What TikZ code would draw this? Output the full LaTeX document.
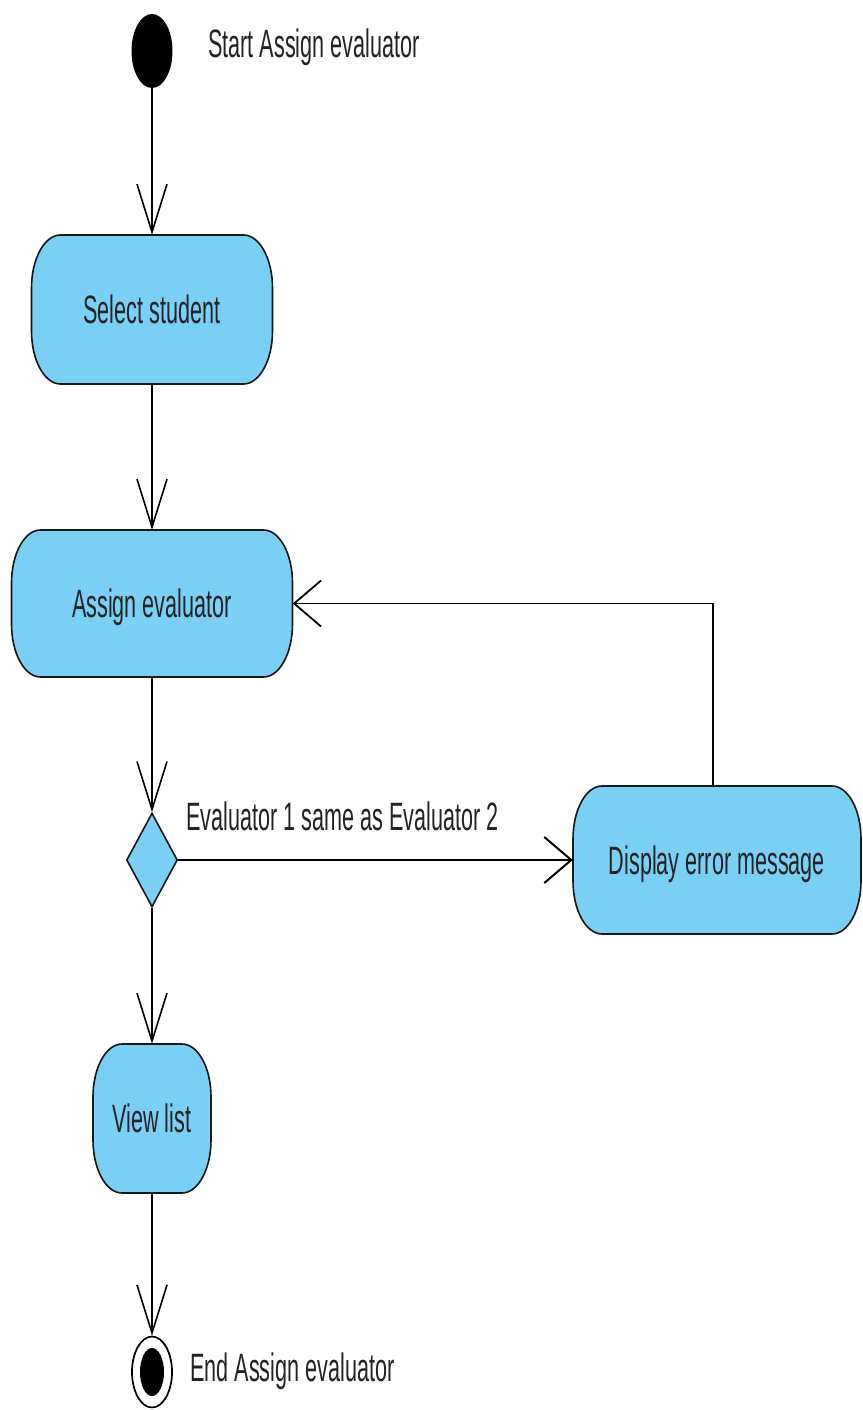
\documentclass[tikz,border=0pt]{standalone}
\usepackage{fontspec}
\setmainfont{Liberation Sans}
\usetikzlibrary{arrows.meta,shapes.geometric}

\definecolor{actblue}{RGB}{122,207,245}
\definecolor{inkline}{RGB}{22,22,22}
\definecolor{labelink}{RGB}{35,35,35}

% tall, condensed lettering used for every caption
\newcommand\narrowtext[1]{\scalebox{0.9}[1.65]{\raisebox{0pt}[\height][0pt]{#1}}}
\newcommand\cornerrx{29}
\newcommand\cornerry{53}
% action state with elliptic corners: name, centre x, centre y, width, height, text
\newcommand\actionnode[6]{%
  \path[actionshape] ({#2-#4/2+\cornerrx},{#3+#5/2}) -- ({#2+#4/2-\cornerrx},{#3+#5/2})
    arc[start angle=90,end angle=0,x radius=\cornerrx,y radius=\cornerry]
    -- ({#2+#4/2},{#3-#5/2+\cornerry})
    arc[start angle=0,end angle=-90,x radius=\cornerrx,y radius=\cornerry]
    -- ({#2-#4/2+\cornerrx},{#3-#5/2})
    arc[start angle=-90,end angle=-180,x radius=\cornerrx,y radius=\cornerry]
    -- ({#2-#4/2},{#3+#5/2-\cornerry})
    arc[start angle=180,end angle=90,x radius=\cornerrx,y radius=\cornerry]
    -- cycle;
  \node[actiontext,minimum width=#4pt,minimum height=#5pt] (#1) at (#2,#3) {\narrowtext{#6}};}

\begin{document}
\begin{tikzpicture}[x=1pt,y=1pt,
  font=\fontsize{24}{28}\selectfont,
  actionshape/.style={fill=actblue,draw=inkline,line width=1.6pt},
  actiontext/.style={rectangle,inner sep=0pt,text=labelink},
  flowlabel/.style={inner sep=0pt,text=labelink},
  initial/.style={ellipse,fill=black,inner sep=0pt,minimum width=41pt,minimum height=74pt},
  finalring/.style={ellipse,draw=black,fill=white,line width=1.7pt,inner sep=0pt,minimum width=40pt,minimum height=71pt},
  finaldot/.style={ellipse,fill=black,inner sep=0pt,minimum width=24pt,minimum height=48pt},
  decision/.style={diamond,fill=actblue,draw=inkline,line width=1.6pt,inner sep=0pt,minimum width=51pt,minimum height=94pt},
  flowv/.style={draw=black,line width=1.6pt,-{Straight Barb[length=48pt,width=30pt]}},
  flowh/.style={draw=black,line width=2pt,-{Straight Barb[length=27pt,width=46pt]}},
  flowloop/.style={draw=black,line width=1.8pt,-{Straight Barb[length=27pt,width=46pt]}}]

\useasboundingbox (0,0) rectangle (862,-1410);

% start and end states
\node[initial] (start) at (152,-51) {};
\node[flowlabel,anchor=base west] (startlbl) at (208,-58) {\narrowtext{Start Assign evaluator}};

\node[finalring] (end) at (152,-1372) {};
\node[finaldot] (enddot) at (152,-1372) {};
\node[flowlabel,anchor=base west] (endlbl) at (190,-1381) {\narrowtext{End Assign evaluator}};

% actions
\actionnode{select}{152}{-309.5}{241}{149}{Select student}
\actionnode{assign}{152}{-603.5}{281}{147}{Assign evaluator}
\actionnode{error}{717}{-860}{288}{148}{Display error message}
\actionnode{view}{152}{-1118.5}{118}{149}{View list}

% decision
\node[decision] (check) at (152,-860) {};
\node[flowlabel,anchor=base west] (checklbl) at (186,-830) {\narrowtext{Evaluator 1 same as Evaluator 2}};

% control flows
\draw[flowv] (start.south) -- (select.north);
\draw[flowv] (select.south) -- (assign.north);
\draw[flowv] (assign.south) -- (check.north);
\draw[flowh] (check.east) -- (error.west);
\draw[flowv] (check.south) -- (view.north);
\draw[flowv] (view.south) -- (end.north);
\draw[flowloop] ([xshift=-4pt]error.north) |- (assign.east);

\end{tikzpicture}
\end{document}
